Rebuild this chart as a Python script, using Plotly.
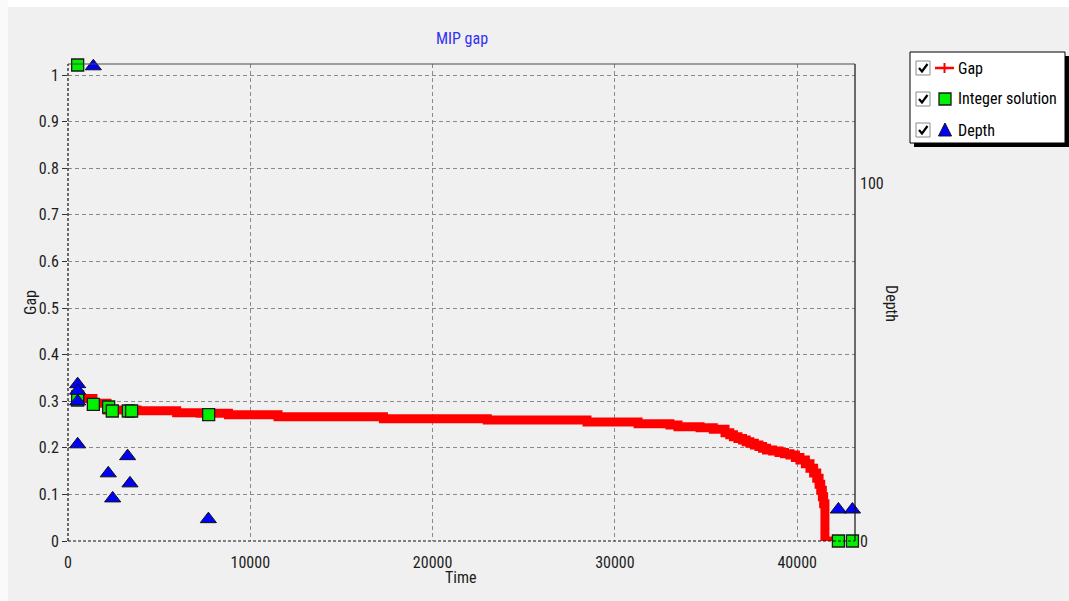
import plotly.graph_objects as go

# ---------------- data ----------------
gap_time = [530, 1370, 2140, 3790, 5960, 7240, 8800, 11520, 17300, 23000, 28470,
            31270, 33020, 33460, 34670, 35400, 36040, 36300, 36500, 36750, 37000, 37200,
            37400, 37650, 37900, 38100, 38320, 38650, 39000, 39300, 39600, 39900, 40150,
            40450, 40700, 40900, 41070, 41200, 41290, 41380, 41450, 41520, 42260]
gap_value = [0.306, 0.2955, 0.281, 0.2797, 0.2754, 0.274, 0.271, 0.2665, 0.2625, 0.2597, 0.2554,
             0.2515, 0.249, 0.2453, 0.243, 0.2397, 0.2325, 0.228, 0.2238, 0.220, 0.217, 0.213,
             0.2096, 0.206, 0.203, 0.199, 0.1953, 0.193, 0.190, 0.187, 0.1845, 0.179, 0.174,
             0.166, 0.156, 0.146, 0.1345, 0.122, 0.109, 0.095, 0.08, 0.0, 0.0]

int_time = [530, 530, 530, 1390, 2230, 2430, 3310, 3490, 7715, 42260, 43030]
int_gap = [1.0215, 0.309, 0.3026, 0.2933, 0.2876, 0.279, 0.279, 0.279, 0.271, 0.0, 0.0]

depth_time = [530, 530, 530, 530, 1390, 2210, 2450, 3270, 3400, 7700, 42260, 43030]
depth_value = [43.8, 42.0, 39.0, 27.0, 132.6, 18.9, 11.9, 23.7, 16.1, 6.1, 8.8, 8.8]

x_ticks = [0, 10000, 20000, 30000, 40000]
y_ticks = [0, 0.1, 0.2, 0.3, 0.4, 0.5, 0.6, 0.7, 0.8, 0.9, 1.0]
y_ticklabels = ["0", "0.1", "0.2", "0.3", "0.4", "0.5", "0.6", "0.7", "0.8", "0.9", "1"]
depth_ticks = [0, 100]

legend_labels = ["Gap", "Integer solution", "Depth"]

# ---------------- geometry helpers ----------------
W, H = 1069, 601
L, R, T, B = 68, 855, 64, 541


def px(xp):
    return (xp - L) / (R - L)


def py(yp):
    return (B - yp) / (B - T)


FONT = "Liberation Sans Narrow, Arial Narrow, Roboto Condensed, Liberation Sans, Arial, sans-serif"
TXT = "#1c1c1c"

fig = go.Figure()

fig.add_trace(go.Scatter(
    x=gap_time, y=gap_value, name=legend_labels[0], mode="lines",
    line=dict(color="#ff0000", width=9, shape="hv"), hoverinfo="x+y"))

fig.add_trace(go.Scatter(
    x=int_time, y=int_gap, name=legend_labels[1], mode="markers", cliponaxis=False,
    marker=dict(symbol="square", size=12, color="#00f000", line=dict(color="#1a1a1a", width=1.3))))

fig.add_trace(go.Scatter(
    x=depth_time, y=depth_value, name=legend_labels[2], mode="markers", yaxis="y2", cliponaxis=False,
    marker=dict(symbol="triangle-up", size=14, color="#0000ff", line=dict(color="#111111", width=1))))

shapes = []
# white strips around panel
shapes.append(dict(type="rect", xref="paper", yref="paper", x0=px(0), x1=px(W), y0=py(0), y1=py(7),
                   fillcolor="#ffffff", line=dict(width=0), layer="below"))
shapes.append(dict(type="rect", xref="paper", yref="paper", x0=px(0), x1=px(8), y0=py(0), y1=py(H),
                   fillcolor="#fafafa", line=dict(width=0), layer="below"))
# plot frame
shapes.append(dict(type="line", xref="paper", yref="paper", x0=0, x1=1, y0=1, y1=1,
                   line=dict(color="#4a4a4a", width=1.2)))
shapes.append(dict(type="line", xref="paper", yref="paper", x0=1, x1=1, y0=0, y1=1,
                   line=dict(color="#111111", width=1.2)))
shapes.append(dict(type="line", xref="paper", yref="paper", x0=0, x1=0, y0=0, y1=1,
                   line=dict(color="#111111", width=1.2, dash="3px,2px")))
shapes.append(dict(type="line", xref="paper", yref="paper", x0=0, x1=1, y0=0, y1=0,
                   line=dict(color="#111111", width=1.2, dash="3px,2px")))

# legend box with shadow
shapes.append(dict(type="rect", xref="paper", yref="paper", x0=px(914), x1=px(1069), y0=py(147), y1=py(56),
                   fillcolor="#000000", line=dict(width=0)))
shapes.append(dict(type="rect", xref="paper", yref="paper", x0=px(910), x1=px(1065), y0=py(143), y1=py(52),
                   fillcolor="#ffffff", line=dict(color="#000000", width=1)))

rows = [68, 99, 130]
for cy in rows:
    # checkbox
    shapes.append(dict(type="rect", xref="paper", yref="paper", x0=px(916), x1=px(930), y0=py(cy + 7), y1=py(cy - 7),
                       fillcolor="#ffffff", line=dict(color="#8a8a8a", width=1)))
    path = "M %f %f L %f %f L %f %f" % (px(919), py(cy), px(922), py(cy + 3.5), px(927.5), py(cy - 4))
    shapes.append(dict(type="path", xref="paper", yref="paper", path=path,
                       line=dict(color="#000000", width=2.2)))

# legend symbols
shapes.append(dict(type="line", xref="paper", yref="paper", x0=px(935), x1=px(954), y0=py(rows[0]), y1=py(rows[0]),
                   line=dict(color="#ff0000", width=2.5)))
shapes.append(dict(type="line", xref="paper", yref="paper", x0=px(944.5), x1=px(944.5), y0=py(rows[0] - 5), y1=py(rows[0] + 5),
                   line=dict(color="#ff0000", width=2)))
shapes.append(dict(type="rect", xref="paper", yref="paper", x0=px(939), x1=px(951), y0=py(rows[1] + 6), y1=py(rows[1] - 6),
                   fillcolor="#00f000", line=dict(color="#1a1a1a", width=1.3)))
tri = "M %f %f L %f %f L %f %f Z" % (px(945), py(rows[2] - 7), px(951.5), py(rows[2] + 6), px(938.5), py(rows[2] + 6))
shapes.append(dict(type="path", xref="paper", yref="paper", path=tri,
                   fillcolor="#0000ff", line=dict(color="#111111", width=1)))

annotations = []
for lab, cy in zip(legend_labels, rows):
    annotations.append(dict(text=lab, xref="paper", yref="paper", x=px(956), y=py(cy), xanchor="left",
                            yanchor="middle", showarrow=False, font=dict(family=FONT, size=16, color="#000000")))

annotations.append(dict(text="Time", xref="paper", yref="paper", x=px(461), y=py(577), xanchor="center",
                        yanchor="middle", showarrow=False, font=dict(family=FONT, size=16, color=TXT)))
annotations.append(dict(text="Gap", xref="paper", yref="paper", x=px(30), y=py(303), xanchor="center",
                        yanchor="middle", showarrow=False, textangle=-90,
                        font=dict(family=FONT, size=16, color=TXT)))
annotations.append(dict(text="Depth", xref="paper", yref="paper", x=px(892), y=py(303), xanchor="center",
                        yanchor="middle", showarrow=False, textangle=90,
                        font=dict(family=FONT, size=16, color=TXT)))

fig.update_layout(
    width=W, height=H, autosize=False,
    margin=dict(l=L, r=W - R, t=T, b=H - B, pad=0),
    paper_bgcolor="#f0f0f0", plot_bgcolor="#f0f0f0",
    showlegend=False,
    title=dict(text="MIP gap", x=px(462), xref="paper", xanchor="center",
               y=1 - 38 / H, yref="container", yanchor="middle",
               font=dict(family=FONT, size=16, color="#3232f0")),
    font=dict(family=FONT, size=16, color=TXT),
    xaxis=dict(range=[0, 43170], tickvals=x_ticks, ticktext=[str(v) for v in x_ticks],
               showgrid=True, gridcolor="#8a8a8a", griddash="4px,3px", gridwidth=1,
               zeroline=False, showline=False, ticks="", ticklabelstandoff=10,
               tickfont=dict(family=FONT, size=16, color=TXT)),
    yaxis=dict(range=[0, (B - T) / 466.0], tickvals=y_ticks, ticktext=y_ticklabels,
               showgrid=True, gridcolor="#8a8a8a", griddash="4px,3px", gridwidth=1,
               zeroline=False, showline=False, ticks="outside", ticklen=5, tickcolor="#333333",
               tickfont=dict(family=FONT, size=16, color=TXT)),
    yaxis2=dict(range=[0, (B - T) / 358.0 * 100], overlaying="y", side="right", tickvals=depth_ticks,
                showgrid=False, zeroline=False, showline=False, ticks="", ticklabelstandoff=4,
                tickfont=dict(family=FONT, size=16, color=TXT)),
    shapes=shapes,
    annotations=annotations,
)

fig.write_html("out.html")
